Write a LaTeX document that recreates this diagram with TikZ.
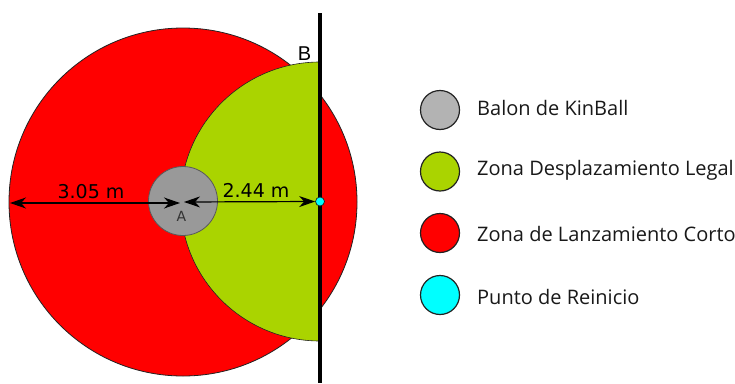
\documentclass[tikz,border=0pt]{standalone}
\usepackage{fontspec}
\setmainfont{Open Sans}
\newfontfamily\dimfont{DejaVu Sans}
\newfontfamily\letfont{Liberation Sans}
\usetikzlibrary{arrows.meta}
\definecolor{ballgray}{HTML}{999999}
\definecolor{leggray}{HTML}{B3B3B3}
\definecolor{zgreen}{HTML}{AAD400}
\definecolor{edgecol}{HTML}{222222}
\definecolor{zred}{HTML}{FF0000}
\definecolor{zcyan}{HTML}{00FFFF}
\tikzset{
  x=1pt,y=-1pt,
  legdot/.style={circle,draw=edgecol,line width=1.2pt,minimum size=39pt,inner sep=0pt},
  legtext/.style={anchor=west,inner sep=0pt,font=\fontsize{20pt}{24pt}\selectfont,text=black!90},
  dimline/.style={line width=1.2pt,{Stealth[length=16pt,width=11pt,inset=5pt]}-{Stealth[length=16pt,width=11pt,inset=5pt]}},
  dimlabel/.style={inner sep=0pt,font=\dimfont\fontsize{19pt}{22pt}\selectfont},
}
\begin{document}
\begin{tikzpicture}
\useasboundingbox (0,0) rectangle (735,383);
% zones
\fill[white] (0,0) rectangle (735,383);
\draw[fill=zred,draw=edgecol,line width=0.8pt] (183,202) circle[radius=174];
\begin{scope}
  \clip (100,0) rectangle (320,383);
  \fill[zgreen] (320,201.5) circle[radius=139.5];
  \draw[edgecol,line width=0.6pt] (320,201.5) circle[radius=139.5];
\end{scope}
\draw[fill=ballgray,draw=black!65,line width=0.8pt] (183,201) circle[radius=34.5];
% wall line
\coordinate (walltop) at (320,13);
\coordinate (wallbot) at (320,383);
\draw[black,line width=4pt] (walltop) -- (wallbot);
% points and dimensions
\coordinate (redEdge) at (10,203);
\coordinate (ballA) at (180,203);
\coordinate (ballB) at (184,202);
\node[circle,draw=edgecol,fill=zcyan,line width=0.7pt,minimum size=9pt,inner sep=0pt] (reset) at (320,201.5) {};
\draw[dimline] (redEdge) -- (ballA);
\draw[dimline] (ballB) -- (reset.west);
\node[dimlabel] (d1) at (91,192) {3.05 m};
\node[dimlabel] (d2) at (256,190.5) {2.44 m};
\node[inner sep=0pt,font=\dimfont\fontsize{14pt}{16pt}\selectfont,text=black!80] (A) at (181.5,216) {A};
\node[inner sep=0pt,font=\letfont\fontsize{20pt}{22pt}\selectfont] (B) at (304.5,54) {B};
% legend
\node[legdot,fill=leggray] (l1) at (440,110) {};
\node[legdot,fill=zgreen] (l2) at (440,171.5) {};
\node[legdot,fill=zred] (l3) at (440,233) {};
\node[legdot,fill=zcyan] (l4) at (440,295) {};
\node[legtext] (t1) at (477,108) {Balon de KinBall};
\node[legtext] (t2) at (477,170) {Zona Desplazamiento Legal};
\node[legtext] (t3) at (477,234) {Zona de Lanzamiento Corto};
\node[legtext] (t4) at (477,297) {Punto de Reinicio};
\end{tikzpicture}
\end{document}
